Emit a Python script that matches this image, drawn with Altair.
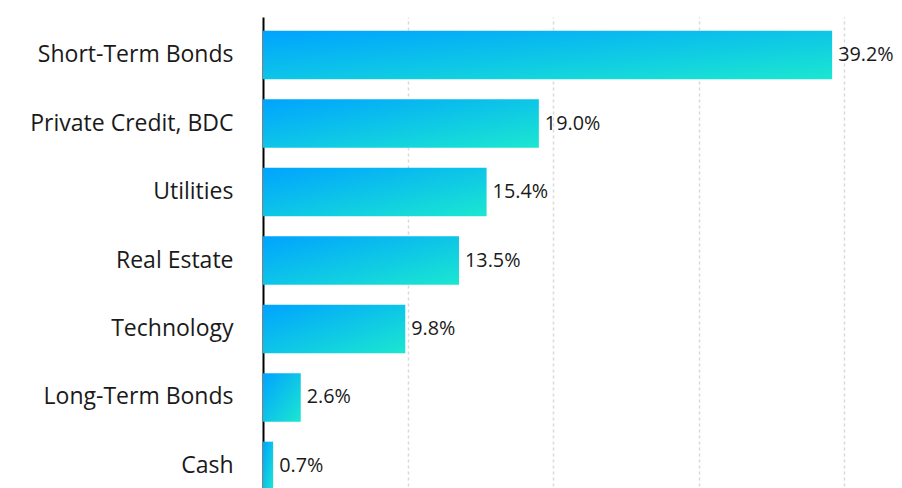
import altair as alt
import pandas as pd

categories = ["Short-Term Bonds", "Private Credit, BDC", "Utilities", "Real Estate",
              "Technology", "Long-Term Bonds", "Cash"]
values = [39.2, 19.0, 15.4, 13.5, 9.8, 2.6, 0.7]

df = pd.DataFrame({"category": categories, "value": values})
df["label"] = [f"{v:.1f}%" for v in values]

FONT = "Open Sans"

gradient = alt.Gradient(
    gradient="linear",
    x1=0, y1=0, x2=1, y2=1,
    stops=[alt.GradientStop(color="#00A3FF", offset=0),
           alt.GradientStop(color="#1BE7D0", offset=1)],
)

y_enc = alt.Y("category:N", sort=None, title=None,
              scale=alt.Scale(paddingInner=0.29, paddingOuter=0.2),
              axis=alt.Axis(domain=True, domainColor="#000000", domainWidth=2,
                            ticks=False, labelPadding=30, labelFontSize=23,
                            labelLimit=400,
                            labelFont=FONT, labelColor="#1a1a1a", grid=False))
x_enc = alt.X("value:Q", title=None,
              scale=alt.Scale(domain=[0, 43.46], nice=False),
              axis=alt.Axis(labels=False, ticks=False, domain=False, grid=True,
                            values=[10, 20, 30, 40], gridColor="#d9d9d9",
                            gridDash=[3, 3], gridWidth=1.5))

bars = alt.Chart(df).mark_bar(color=gradient).encode(x=x_enc, y=y_enc)
text = alt.Chart(df).mark_text(align="left", baseline="middle", dx=6, fontSize=19.8,
                               font=FONT, color="#1a1a1a").encode(
    x="value:Q", y=alt.Y("category:N", sort=None), text="label:N")

chart = (bars + text).properties(
    width=631, height=487,
    autosize=alt.AutoSizeParams(type="none"),
    padding={"left": 255, "top": 9, "right": 0, "bottom": 0},
).configure_view(stroke=None)

chart.save("out.html", embed_options={"renderer": "svg", "actions": False})
